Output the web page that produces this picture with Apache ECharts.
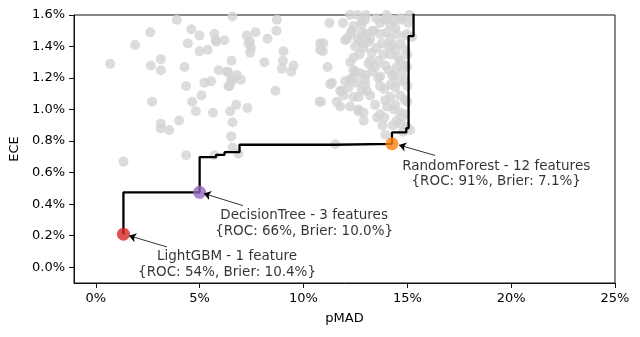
<!DOCTYPE html>
<html>
<head>
<meta charset="utf-8">
<script src="https://cdn.jsdelivr.net/npm/echarts@6/dist/echarts.min.js"></script>
<style>
html,body{margin:0;padding:0;background:#fff;}
#chart{width:640px;height:337px;}
</style>
</head>
<body>
<div id="chart"></div>
<script>
// ---- data (percent units) ----
const xTicks = [0, 5, 10, 15, 20, 25];
const yTicks = [0, 0.2, 0.4, 0.6, 0.8, 1.0, 1.2, 1.4, 1.6];

// all evaluated models (gray cloud): pMAD %, ECE %
const modelPMAD = [
  0.69,1.89,2.62,2.65,3.13,3.13,2.71,3.13,3.13,3.53,4.01,1.33,3.9,4.6,4.43,4.27,4.35,4.64,4.82,5.09,
  4.99,4.99,5.39,5.71,5.78,6.19,6.58,5.92,6.36,6.53,5.23,5.55,6.44,6.53,6.79,6.98,5.64,6.47,6.76,7.3,
  6.58,6.52,6.58,4.35,5.71,6.87,7.27,7.43,7.47,7.43,7.69,8.12,8.27,8.65,8.7,8.72,9.04,9.01,8.96,9.41,
  9.52,10.77,10.8,10.8,
  11.25,10.96,10.93,11.16,11.29,10.84,12.41,12.81,12.25,12.01,12.49,12.89,13.21,12.41,12.25,12.89,13.29,13.13,12.41,12.73,
  12.25,12.57,12.17,11.77,11.93,12.65,13.05,12.97,11.77,12.25,12.65,12.89,13.54,13.69,13.69,13.45,13.61,13.85,13.69,13.78,
  14.02,14.18,13.94,14.34,14.66,14.18,14.5,14.66,14.42,14.66,14.5,14.74,14.34,14.66,14.42,14.66,14.18,14.02,14.34,14.66,
  14.5,14.66,13.94,14.98,15.14,14.98,14.98,15.22,11.53,11.37,11.85,12.65,14.74,12.33,12.09,12.81,12.81,12.49,12.33,
  12.97,13.31,13.69,14.08,14.42,14.75,13.12,13.5,14.27,14.9,13.21,13.94,14.56,12.97,13.6,14.27,14.9,
  13.21,13.94,14.42,14.9,14.9,13.45,13.69,12.97,14.9,14.9,12.73,12.25,5.8,6.31,6.55,6.39,7.35,
  11.9,12.6,13.0,13.5,13.4,13.0,12.6,12.7,13.3,12.8,12.4,11.6,12.0,13.9,14.2,14.1,14.2,14.1,
  13.9,13.8,14.3,14.8,15.0,15.0,15.0,15.05,15.1,14.0,12.9
];
const modelECE = [
  1.29,1.41,1.49,1.28,1.32,1.25,1.05,0.91,0.88,0.87,0.93,0.67,1.57,1.51,1.42,1.27,1.15,1.05,0.99,1.09,
  1.47,1.37,1.38,1.48,1.44,1.44,1.59,1.25,1.24,1.31,1.17,1.18,1.15,1.19,1.22,1.19,0.98,0.99,1.03,1.01,
  0.92,0.83,0.76,0.71,0.71,0.72,1.47,1.43,1.39,1.36,1.49,1.30,1.45,1.12,1.50,1.57,1.37,1.31,1.26,1.24,
  1.28,1.05,1.38,1.42,
  1.55,1.42,1.37,1.27,1.16,1.05,1.53,1.54,1.48,1.44,1.40,1.42,1.45,1.33,1.30,1.39,1.36,1.29,1.25,1.23,
  1.19,1.17,1.14,1.12,1.09,1.08,1.12,1.19,1.02,1.02,1.00,0.98,0.95,1.21,1.15,1.27,1.31,1.35,1.48,1.42,
  1.49,1.45,1.57,1.57,1.58,1.54,1.48,1.42,1.38,1.31,1.27,1.24,1.21,1.18,1.14,1.09,1.08,1.02,1.00,0.98,
  0.93,0.91,0.84,0.89,0.87,1.48,1.27,1.46,0.78,1.17,1.12,0.99,0.95,1.50,1.45,1.56,1.49,1.24,1.20,
  1.57,1.50,1.55,1.58,1.52,1.57,1.43,1.39,1.41,1.38,1.31,1.28,1.33,1.22,1.20,1.22,1.19,
  1.09,1.06,1.03,1.06,0.97,1.03,0.97,1.16,1.28,1.47,1.44,1.60,1.43,1.24,1.18,1.15,1.42,
  1.55,1.60,1.60,1.58,1.50,1.48,1.45,1.35,1.24,1.12,1.08,1.05,1.18,1.13,1.16,1.25,1.35,1.40,
  0.95,0.90,0.90,0.86,1.05,1.15,1.35,1.55,1.60,1.60,0.93
];

// Pareto front (step line)
const frontPMAD = [1.33, 5.0, 5.79, 6.2, 6.92, 11.5, 14.26, 14.95, 15.06, 15.3, 15.6];
const frontECE  = [0.21, 0.475, 0.699, 0.713, 0.73, 0.777, 0.783, 0.855, 0.882, 1.466, 1.9];

// highlighted models
const bestNames = ['LightGBM', 'DecisionTree', 'RandomForest'];
const bestPMAD  = [1.33, 5.0, 14.26];
const bestECE   = [0.21, 0.475, 0.783];
const bestLabels = [
  'LightGBM - 1 feature\n{ROC: 54%, Brier: 10.4%}',
  'DecisionTree - 3 features\n{ROC: 66%, Brier: 10.0%}',
  'RandomForest - 12 features\n{ROC: 91%, Brier: 7.1%}'
];
const bestColors = ['#d62728', '#9467bd', '#ff7f0e'];

// ---- chart ----
const FONT = 'DejaVu Sans';
const chart = echarts.init(document.getElementById('chart'), null, {renderer: 'canvas'});

const textPos = [[6.32, 0.017], [10.03, 0.278], [19.28, 0.59]];
const arrowTail = [[3.42, 0.129], [7.08, 0.391], [16.34, 0.709]];
const arrowTip = [[1.6, 0.2], [5.2, 0.468], [14.6, 0.775]];

const option = {
  animation: false,
  backgroundColor: '#fff',
  grid: {
    left: 74, right: 25, top: 15, bottom: 54,
    show: true, borderColor: '#111', borderWidth: 1, backgroundColor: 'transparent'
  },
  xAxis: {
    type: 'value', min: -1.05, max: 25,
    name: 'pMAD', nameLocation: 'middle', nameGap: 29,
    nameTextStyle: {fontFamily: FONT, fontSize: 13, color: '#000'},
    axisLine: {show: true, onZero: false, lineStyle: {color: '#111', width: 1}},
    axisTick: {show: true, length: 5, inside: false, customValues: xTicks, lineStyle: {color: '#111'}},
    axisLabel: {customValues: xTicks, formatter: v => v + '%', fontFamily: FONT, fontSize: 13, color: '#000', margin: 9},
    splitLine: {show: false}
  },
  yAxis: {
    type: 'value', min: -0.1, max: 1.6,
    name: 'ECE', nameLocation: 'middle', nameGap: 50, nameRotate: 90,
    nameTextStyle: {fontFamily: FONT, fontSize: 13, color: '#000'},
    axisLine: {show: true, onZero: false, lineStyle: {color: '#111', width: 1}},
    axisTick: {show: true, length: 5, inside: false, customValues: yTicks, lineStyle: {color: '#111'}},
    axisLabel: {customValues: yTicks, formatter: v => v.toFixed(1) + '%', fontFamily: FONT, fontSize: 13, color: '#000', margin: 9},
    splitLine: {show: false}
  },
  series: [
    {
      type: 'scatter', name: 'models', silent: true, z: 1,
      symbolSize: 10,
      itemStyle: {color: '#d3d3d3'},
      data: modelPMAD.map((x, i) => [x, modelECE[i]])
    },
    {
      type: 'line', name: 'front', step: 'start', silent: true, z: 2,
      symbol: 'none', clip: true,
      lineStyle: {color: '#000', width: 2.3},
      data: frontPMAD.map((x, i) => [x, frontECE[i]])
    },
    {
      type: 'scatter', name: 'best', silent: true, z: 4,
      symbolSize: 13,
      data: bestPMAD.map((x, i) => ({value: [x, bestECE[i]], name: bestNames[i], itemStyle: {color: bestColors[i]}})),
      markLine: {
        silent: true, animation: false,
        symbol: ['none', 'arrow'], symbolSize: [7, 7],
        lineStyle: {color: '#000', width: 0.8, type: 'solid'},
        label: {show: false},
        data: arrowTail.map((t, i) => [{coord: t}, {coord: arrowTip[i]}])
      }
    },
    {
      type: 'scatter', name: 'labels', silent: true, z: 5,
      symbolSize: 1,
      itemStyle: {color: 'rgba(0,0,0,0)'},
      label: {
        show: true, position: 'inside', formatter: p => bestLabels[p.dataIndex],
        fontFamily: FONT, fontSize: 13.5, color: '#000', lineHeight: 15.5, align: 'center', verticalAlign: 'middle'
      },
      data: textPos
    }
  ]
};
chart.setOption(option);
</script>
</body>
</html>
